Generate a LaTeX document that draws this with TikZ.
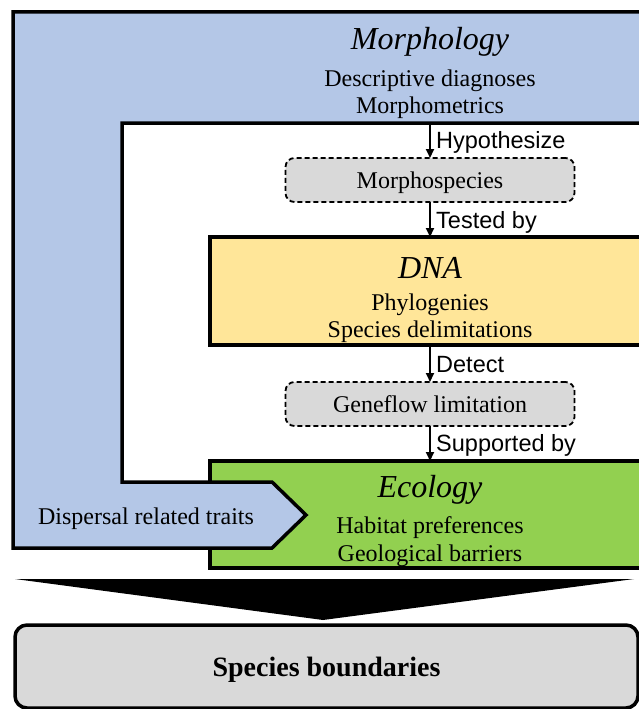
\documentclass[tikz,border=0pt]{standalone}
\usepackage{fontspec}
\setmainfont{Liberation Serif}
\setsansfont{Liberation Sans}
\usetikzlibrary{arrows.meta}
\definecolor{morphblue}{RGB}{180,199,231}
\definecolor{dnayellow}{RGB}{255,230,153}
\definecolor{ecogreen}{RGB}{146,208,80}
\definecolor{boxgray}{RGB}{217,217,217}
\tikzset{
  heavy/.style={draw=black, line width=3.5pt, line join=miter},
  bodytxt/.style={font=\fontsize{24}{28}\selectfont, anchor=base, inner sep=0pt},
  titletxt/.style={font=\fontsize{32}{36}\selectfont\itshape, anchor=base, inner sep=0pt},
  lbltxt/.style={font=\sffamily\fontsize{23.5}{27}\selectfont, anchor=base west, inner sep=0pt},
  hypbox/.style={draw=black, dash pattern=on 5pt off 3pt, line width=1.8pt, fill=boxgray,
    rounded corners=9pt, minimum width=289pt, minimum height=44pt, inner sep=0pt, outer sep=0pt,
    text height=18pt, text depth=2pt, font=\fontsize{24}{28}\selectfont},
  bigbox/.style={heavy, anchor=north west, minimum width=440pt, inner sep=0pt, outer sep=0pt},
  arr/.style={line width=2pt, -{Triangle[length=9pt,width=8pt]}},
}
\begin{document}
\begin{tikzpicture}[x=1pt,y=-1pt]
\useasboundingbox (0,0) rectangle (639,709);
\clip (0,0) rectangle (639,709);

% DNA and Ecology boxes
\node[bigbox, fill=dnayellow, minimum height=108pt] (dna) at (210,237) {};
\node[bigbox, fill=ecogreen, minimum height=107pt] (eco) at (210,461) {};

% Morphology L-shaped frame with arrow
\draw[heavy, fill=morphblue] (13,12) -- (660,12) -- (660,123) -- (122,123) -- (122,482)
  -- (272,482) -- (306,515) -- (272,548) -- (13,548) -- cycle;

% Texts
\node[titletxt] (morphT) at (430,50) {Morphology};
\node[bodytxt] (morphA) at (430,86) {Descriptive diagnoses};
\node[bodytxt] (morphB) at (430,113) {Morphometrics};
\coordinate (wtop) at (430,123);

\node[titletxt] (dnaT) at (430,278) {DNA};
\node[bodytxt] (dnaA) at (430,310) {Phylogenies};
\node[bodytxt] (dnaB) at (430,337) {Species delimitations};

\node[titletxt] (ecoT) at (430,497) {Ecology};
\node[bodytxt] (ecoA) at (430,533) {Habitat preferences};
\node[bodytxt] (ecoB) at (430,561) {Geological barriers};

\node[bodytxt] (disp) at (146,524) {Dispersal related traits};

% Hypothesis boxes
\node[hypbox] (msp) at (430,180) {Morphospecies};
\node[hypbox] (gene) at (430,404) {Geneflow limitation};

% Arrows
\draw[arr] (wtop) -- (msp.north);
\draw[arr] (msp.south) -- (msp.south |- dna.north);
\draw[arr] (dna.south) -- (gene.north);
\draw[arr] (gene.south) -- (gene.south |- eco.north);

\node[lbltxt] (l1) at (436,148) {Hypothesize};
\node[lbltxt] (l2) at (436,228) {Tested by};
\node[lbltxt] (l3) at (436,372) {Detect};
\node[lbltxt] (l4) at (436,451) {Supported by};

% Big downward arrow
\fill[black] (15,579) -- (634,579) -- (323,620) -- cycle;

% Species boundaries
\node[heavy, fill=boxgray, rounded corners=12pt, anchor=north west, minimum width=623pt,
  minimum height=83pt, inner sep=0pt, outer sep=0pt, text height=20pt, text depth=0pt,
  font=\fontsize{28}{32}\selectfont\bfseries] (sb) at (15,625) {Species boundaries};
\end{tikzpicture}
\end{document}
